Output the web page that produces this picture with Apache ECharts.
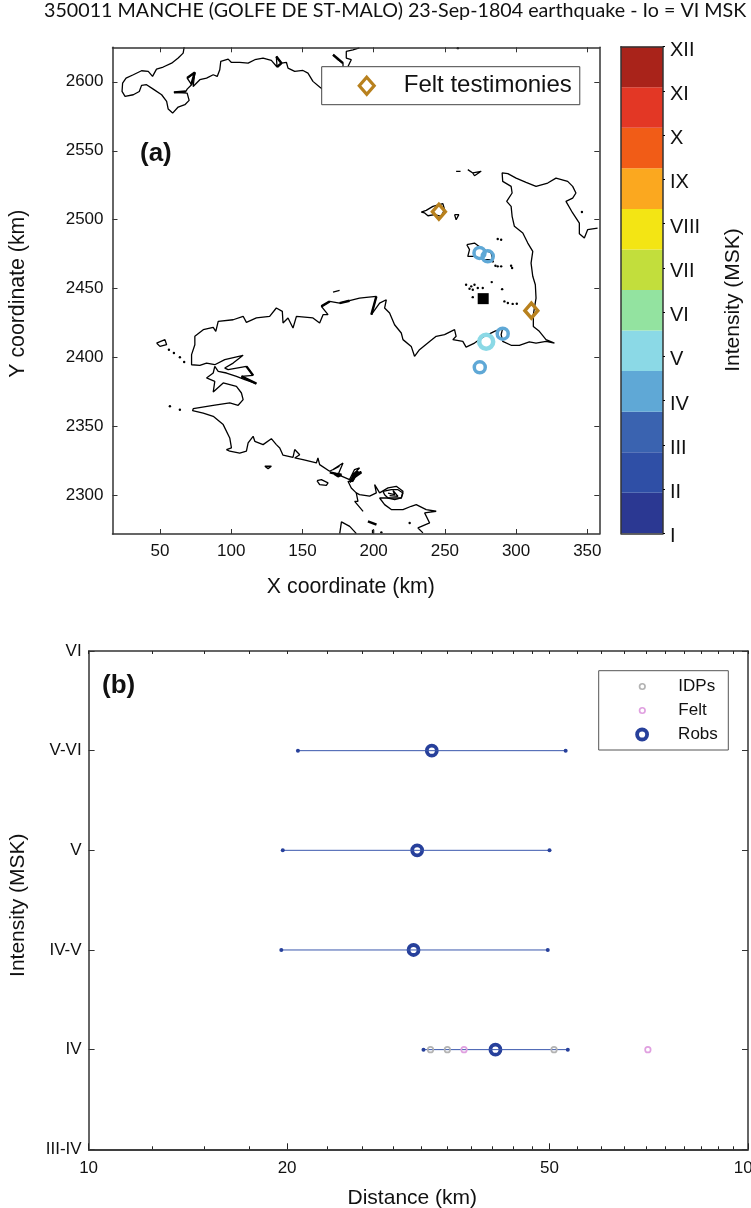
<!DOCTYPE html>
<html>
<head>
<meta charset="utf-8">
<title>350011 MANCHE</title>
<script src="https://cdn.jsdelivr.net/npm/echarts@6/dist/echarts.min.js"></script>
<style>
  html, body { margin: 0; padding: 0; background: #fff; }
  #main { width: 751px; height: 1208px; }
</style>
</head>
<body>
<div id="main"></div>
<script>
// map panel (a), coast lines, x/y in km
var coastEngland = [[67,2625.1],[66.3,2620.8],[62.8,2617.2],[58.2,2613.5],[52.3,2610.7],[47.6,2609.2],[44.8,2603.9],[41.8,2607.5],[37.1,2608],[31.3,2605.1],[26.2,2602.7],[23.8,2599.1],[23.4,2593],[25.5,2589.4],[31.3,2590.6],[35.5,2593],[37.1,2597.4],[40.6,2597.9],[45.3,2594.7],[51.2,2590.6],[54.7,2585.8],[55.8,2580.2],[58.9,2577.3],[62.8,2581.7],[67.5,2583.4],[70.5,2586.5],[69.1,2591.8],[59.8,2592.3],[68.2,2593],[69.1,2594.7],[72.2,2597.9],[69.1,2602.7],[74.5,2606.8],[73.3,2596.6],[78,2601.5],[82.7,2602.7],[87.4,2605.1],[90.2,2603.9],[92,2608.7],[92.7,2614.8],[97.9,2616.4],[100.2,2614],[106,2614],[111.9,2613.5],[116.6,2616],[122.4,2617.2],[128.2,2615.5],[132.2,2610.7],[131.7,2618.4],[135.3,2613.5],[138.8,2614],[139.9,2609.9],[144.6,2607.5],[150.4,2608.2],[153.9,2606.3],[157.4,2600.3],[162.1,2596.2],[170,2590]];
var coastEngland2 = [[171.5,2619.6],[175,2616],[178.5,2613.5],[178.5,2611.1]];
var coastEngland3 = [[182,2611.1],[184.3,2616],[180.8,2617.2],[180.8,2622],[185.5,2623.2],[190,2624.5]];
var coastFrance = [[234.6,2273],[231.1,2276.6],[239.3,2280.2],[235.8,2287.5],[243.9,2288.7],[236.9,2289.9],[229.9,2293.5],[226.4,2292.3],[220.6,2289.9],[212.4,2289.9],[207.7,2293.5],[204.2,2298.3],[219.4,2298.3],[220.6,2303.2],[215.9,2306.8],[210.1,2305.6],[204.2,2302],[200.7,2308],[201.9,2302],[197.2,2299.6],[190.1,2300.8],[187.8,2302],[184.3,2305.6],[182,2310.4],[185.5,2310.4],[189,2317.7],[184.3,2314],[190.1,2320.1],[186.6,2318.9],[183.1,2311.6],[175,2315.2],[178.5,2323.7],[171.5,2318.9],[176.1,2321.3],[169.1,2317.7],[162.1,2322.5],[160.9,2327.3],[159.8,2323.7],[150.4,2326.1],[144.6,2327.3],[148.1,2329.7],[144.6,2333.4],[143.4,2327.8],[136.4,2329.3],[134.1,2334.6],[131.7,2337],[128.2,2341.3],[122.4,2337],[116.6,2339.4],[115.4,2343],[111.9,2338.2],[110.7,2332.2],[106,2330.9],[99,2332.2],[96.7,2333.4],[100.2,2334.6],[99,2341.8],[94.4,2351.5],[87.4,2357.5],[80.4,2359.9],[72.9,2361.6],[73.4,2363.1],[87.4,2365.5],[99,2367.2],[104.9,2365.5],[108.4,2369.6],[107.2,2374.4],[103.7,2379.2],[94.4,2381.7],[87.4,2375.1],[88.5,2382.9],[82.7,2385.3],[87.4,2388.9],[88.5,2393.7],[90.9,2390.1],[96.7,2388.9],[103.7,2386.5],[109.6,2384.1],[117.7,2381.2],[107.2,2386.5],[115.4,2387.2],[110.7,2393.7],[97.9,2391.3],[95.5,2392.5],[101.4,2396.1],[108.4,2401.7],[95.5,2398.6],[88.5,2394.9],[82.7,2396.1],[78,2394.5],[72.2,2394.9],[72.2,2402.2],[74.5,2409.4],[74.5,2415.5],[80.4,2420.3],[87.4,2422],[89.2,2419.1],[90.9,2426.3],[101.4,2427.5],[108.4,2430],[110.7,2425.6],[117.7,2428.8],[127,2430],[131.7,2436],[135.9,2433.6],[136.4,2425.1],[139.9,2428.8],[143.4,2421.5],[145.8,2430],[157.4,2428.8],[162.1,2425.1],[164.5,2431.2],[168,2431.2],[163.3,2437.2],[169.1,2440.8],[176.1,2439.6],[183.1,2441.3],[190.1,2443.2],[194.9,2443.7],[201.9,2444.4],[198.4,2431.2],[204.2,2439.6],[208.9,2442],[207.7,2436],[211.2,2432.4],[214.7,2423.9],[219.4,2417.9],[220.6,2413.1],[226.4,2408.2],[228.7,2401],[232.2,2405.8],[239.3,2411.8],[243.9,2415.5],[249.8,2416.7],[256.8,2420.3],[257.9,2415.5],[255.6,2413.1],[262.6,2411.8],[264.9,2407.7],[270.8,2410.6],[277.8,2415.5],[284.8,2419.1],[290.6,2421.5],[289.5,2416.7],[290.6,2411.8],[296.5,2409],[302.3,2409],[309.3,2411.4],[314,2410.6],[321,2411.8],[326.9,2410.6],[321,2413.1],[316.3,2419.1],[312.1,2422.7],[312.1,2431.2],[314,2443.2],[313.5,2452.9],[311.7,2459],[310.5,2468.6],[311.7,2477.1],[308.2,2483.1],[304.7,2490.4],[298.8,2495.2],[297.2,2502.5],[296.5,2509.7],[293.4,2513.3],[297.2,2519.4],[296.5,2524.2],[290.6,2527.8],[290.2,2533.9],[294.2,2533.4],[300,2530.2],[307,2527.1],[314,2524.2],[322.2,2526.6],[328,2530.2],[336.2,2527.8],[339.7,2524.2],[342,2519.4],[339.7,2515.7],[335,2513.3],[339.7,2504.9],[344.4,2497.6],[344.4,2489.9],[347.9,2486.8],[350.2,2492.8],[357.2,2494]];
var coastVilaine = [[187.8,2302],[189,2295.9],[186.7,2295.9],[192.6,2288.6]];
var coastLoire = [[176.2,2272.5],[177.4,2281],[183.2,2277.7],[187.9,2272.5]];
var gulfLoop = [[206.6,2303.1],[212.4,2304.3],[217.1,2304.3],[220.6,2301.9],[219.4,2298.3],[214.8,2297.1],[210.1,2298.3],[207.7,2300.7],[206.6,2303.1]];
var gulfInner = [[210.1,2301.9],[214.8,2300.7],[213.6,2303.8],[217.1,2299.5],[211.2,2300]];
var guernsey = [[233.4,2505.6],[236.9,2506.8],[241.6,2509.7],[248.6,2511.6],[249.8,2507.3],[247.4,2502.5],[242.8,2503.7],[238.1,2502.9],[235.8,2504.9],[233.4,2505.6]];
var sark = [[256.8,2503.7],[259.8,2503.7],[257.9,2500],[256.8,2503.7]];
var alderney = [[266.1,2536.3],[269.6,2533.9],[275.5,2535.1],[270.8,2531.9],[269.6,2533.9]];
var jersey = [[265.4,2481.9],[270.8,2483.1],[275.5,2479.5],[282.5,2475.9],[283.6,2471.1],[277.8,2471.1],[270.8,2473.5],[266.1,2473.5],[267.3,2478.3],[265.4,2481.9]];
var belleIle = [[160.2,2310.9],[163.3,2311.6],[168,2309.2],[166.8,2307.5],[162.1,2308],[160.2,2310.9]];
var groix = [[123.6,2321.3],[128.2,2321.3],[125.9,2319.6],[123.6,2321.3]];
var ouessant = [[47.6,2410.6],[53.5,2413.1],[54.7,2409.4],[50,2408.2],[47.6,2410.6]];
var breHat = [[171.5,2447.6],[176.1,2448.8]];
var burhou = [[257.9,2535.1],[261,2535.1]];
var coastPieces = [coastEngland, coastEngland2, coastEngland3, coastFrance, coastVilaine, coastLoire, gulfLoop, gulfInner, guernsey, sark, alderney, jersey, belleIle, groix, ouessant, breHat, burhou];

// stretches of the coast that print as heavy black in the picture
var heavyPieces = [
  [[69.1,2602.7],[74.5,2606.8],[72,2598]],
  [[59.8,2592.3],[68.2,2593]],
  [[131.7,2618.4],[135.3,2613.5],[132.2,2610.7]],
  [[171.5,2619.6],[178.5,2613.5]],
  [[107.2,2386.5],[117.7,2381.2]],
  [[110.7,2393.7],[115.4,2387.2]],
  [[163.3,2437.2],[169.1,2440.8]],
  [[176.1,2439.6],[183.1,2441.3]],
  [[201.9,2444.4],[198.4,2431.2]],
  [[169.2,2316.9],[173.4,2315.9],[177.4,2315.2],[175,2314],[171.5,2316.4]],
  [[183.2,2309.6],[185.6,2314],[187.4,2316.4],[191.4,2316.9],[186.7,2313.5],[184.4,2310.3]],
  [[196,2281.4],[202,2279]],
  [[199.6,2275.3],[199.6,2272.5]]
];
var coastDots = [[56.3,2405.8],[59.8,2403.4],[64,2400.3],[67,2396.9],[57,2364.8],[64,2362.3],[346.2,2505.6],[259.1,2624.4],[205.4,2273.4],[225.3,2280.2],
  [264.9,2452.9],[268.5,2451.7],[270.8,2452.9],[273.1,2450.5],[276.6,2450.5],[269.6,2449.3],[267.3,2450],[282.9,2454.8],[269.6,2443.9],
  [287.1,2486],[289.5,2485.5],[283.6,2469.8],[285.5,2466.6],[287.1,2466.2],[289.5,2466.2],[297.2,2465],[296.5,2466.6],
  [291.8,2440.8],[294.2,2439.6],[297.6,2439],[300.5,2439.1],[290.2,2449.7]];

var feltPoints = [[245.8,2505.8],[310.7,2434.1]];
var epicentre = [[276.9,2442.8]];
var obsIV = [[274.3,2475.9],[280.1,2473.5],[290.6,2417.4],[274.5,2393]];
var obsV = [[279,2411.6]];

var mapXTicks = [50,100,150,200,250,300,350];
var mapYTicks = [2300,2350,2400,2450,2500,2550,2600];

// colour scale
var intensityNames = ['I','II','III','IV','V','VI','VII','VIII','IX','X','XI','XII'];
var intensityColors = ['#2b3892','#2f4fa6','#3a63b0','#5fa8d6','#8bd9e6','#93e3a0','#c2de3c','#f3e514','#fba81f','#f15c17','#e33725','#a9231a'];

// distance panel (b)
var rowIntensity = [5.5, 5, 4.5, 4];
var robsMid = [33.15, 31.5, 31.1, 41.4];
var robsLow = [20.77, 19.7, 19.6, 32.2];
var robsHigh = [52.9, 50, 49.7, 53.3];
var idpDistance = [33, 35, 50.8];
var idpIntensity = [4, 4, 4];
var feltDistance = [37.1, 70.5];
var feltIntensity = [4, 4];
var distMajorTicks = [10,20,50,100];
var distMinorTicks = [12.5,15,17.5,23,26,29,32,35,38,41,44,47,55,60,65,70,75,80,85,90,95];
var distAllTicks = [10,12.5,15,17.5,20,23,26,29,32,35,38,41,44,47,50,55,60,65,70,75,80,85,90,95,100];
var rowLabels = {'3.5':'III-IV','4':'IV','4.5':'IV-V','5':'V','5.5':'V-VI','6':'VI'};

var FONT = '"Liberation Sans", Arial, sans-serif';
var AXIS = '#333';
var ROBS = '#27409b';
var FELT = '#b8811e';

function zip(a, b) {
  return a.map(function (v, i) { return [v, b[i]]; });
}

var chart = echarts.init(document.getElementById('main'), null, {renderer: 'canvas'});

function lineOf(w) {
  return {show: true, onZero: false, lineStyle: {color: AXIS, width: w || 1.5}};
}

function mapAxis(pos, ticks, extent, labels) {
  return {
    type: 'value', position: pos, min: extent[0], max: extent[1], z: 5,
    splitLine: {show: false},
    axisLine: lineOf(),
    axisTick: {show: true, inside: true, length: 5, customValues: ticks, lineStyle: {color: AXIS, width: 1}},
    axisLabel: labels ? {show: true, customValues: ticks, color: '#111', fontSize: 17, fontFamily: FONT, margin: 9,
      formatter: function (v) { return String(v); }} : {show: false}
  };
}

var xAxes = [];
var yAxes = [];

// map axes
xAxes.push(Object.assign(mapAxis('bottom', mapXTicks, [16.7, 358.4], true), {
  gridIndex: 0, name: 'X coordinate (km)', nameLocation: 'middle', nameGap: 43,
  nameTextStyle: {fontSize: 21.3, fontFamily: FONT, color: '#111', padding: [0, 10, 0, 0]}
}));
xAxes.push(Object.assign(mapAxis('top', mapXTicks, [16.7, 358.4], false), {gridIndex: 0}));
yAxes.push(Object.assign(mapAxis('left', mapYTicks, [2272.2, 2625], true), {
  gridIndex: 0, name: 'Y coordinate (km)', nameLocation: 'middle', nameGap: 84,
  nameTextStyle: {fontSize: 21.3, fontFamily: FONT, color: '#111', padding: [0, 6, 0, 0]}
}));
yAxes.push(Object.assign(mapAxis('right', mapYTicks, [2272.2, 2625], false), {gridIndex: 0}));

// colour bar axes
['bottom', 'top'].forEach(function (pos) {
  xAxes.push({type: 'category', gridIndex: 1, position: pos, data: [''], z: 5,
    axisLine: lineOf(), axisTick: {show: false}, axisLabel: {show: false}});
});
yAxes.push({type: 'value', gridIndex: 1, position: 'left', min: 0, max: 12, z: 5,
  splitLine: {show: false}, axisLine: lineOf(), axisTick: {show: false}, axisLabel: {show: false}});
yAxes.push({type: 'value', gridIndex: 1, position: 'right', min: 1, max: 12, interval: 1, z: 5,
  splitLine: {show: false}, axisLine: lineOf(),
  axisTick: {show: true, length: 2, lineStyle: {color: '#000', width: 1}},
  axisLabel: {show: true, margin: 7,
    rich: {r: {color: '#111', fontSize: 20, fontFamily: FONT, padding: [7, 0, 0, 0]}},
    formatter: function (v) { return '{r|' + intensityNames[v - 1] + '}'; }},
  name: 'Intensity (MSK)', nameLocation: 'middle', nameGap: 60, nameRotate: 90,
  nameTextStyle: {fontSize: 21, fontFamily: FONT, color: '#111', padding: [0, 20, 0, 0]}});

// distance axes
function distAxis(pos, ticks, len, labels) {
  return {
    type: 'log', logBase: 10, gridIndex: 2, position: pos, min: 10, max: 100, z: 5,
    splitLine: {show: false}, minorTick: {show: false}, axisLine: lineOf(),
    axisTick: {show: true, inside: true, length: len, customValues: ticks, lineStyle: {color: '#222', width: 1}},
    axisLabel: labels ? {show: true, customValues: distMajorTicks, color: '#111', fontSize: 17, fontFamily: FONT, margin: 11,
      hideOverlap: false} : {show: false}
  };
}
xAxes.push(Object.assign(distAxis('bottom', distMajorTicks, 6, true), {
  name: 'Distance (km)', nameLocation: 'middle', nameGap: 38,
  nameTextStyle: {fontSize: 21, fontFamily: FONT, color: '#111', padding: [0, 12, 0, 0]}
}));
xAxes.push(distAxis('bottom', distMinorTicks, 3, false));
xAxes.push(distAxis('top', distAllTicks, 3, false));

function rowAxis(pos, labels) {
  return {
    type: 'value', gridIndex: 2, position: pos, min: 3.5, max: 6, interval: 0.5, z: 5,
    splitLine: {show: false}, axisLine: lineOf(),
    axisTick: {show: true, inside: true, length: 6, lineStyle: {color: AXIS, width: 1}},
    axisLabel: labels ? {show: true, color: '#111', fontSize: 17, fontFamily: FONT, margin: 7,
      formatter: function (v) { return rowLabels[String(v)]; }} : {show: false}
  };
}
yAxes.push(Object.assign(rowAxis('left', true), {
  name: 'Intensity (MSK)', nameLocation: 'middle', nameGap: 60,
  nameTextStyle: {fontSize: 21, fontFamily: FONT, color: '#111', padding: [0, 10, 0, 0]}
}));
yAxes.push(rowAxis('right', false));

var series = [];

// coast
coastPieces.forEach(function (piece) {
  series.push({type: 'line', xAxisIndex: 0, yAxisIndex: 0, data: piece, symbol: 'none', silent: true,
    lineStyle: {color: '#000', width: 1.3}, z: 2});
});
heavyPieces.forEach(function (piece) {
  series.push({type: 'line', xAxisIndex: 0, yAxisIndex: 0, data: piece, symbol: 'none', silent: true,
    lineStyle: {color: '#000', width: 2.4}, z: 2});
});
series.push({type: 'scatter', xAxisIndex: 0, yAxisIndex: 0, data: coastDots, symbol: 'circle', symbolSize: 2.4,
  itemStyle: {color: '#000', opacity: 1}, silent: true, z: 2});

series.push({type: 'scatter', name: 'Obs IV', xAxisIndex: 0, yAxisIndex: 0, data: obsIV, symbol: 'circle', symbolSize: 11,
  itemStyle: {color: 'transparent', borderColor: intensityColors[3], borderWidth: 3.5, opacity: 1}, z: 3});
series.push({type: 'scatter', name: 'Obs V', xAxisIndex: 0, yAxisIndex: 0, data: obsV, symbol: 'circle', symbolSize: 14,
  itemStyle: {color: 'transparent', borderColor: intensityColors[4], borderWidth: 4.5, opacity: 1}, z: 3});
series.push({type: 'scatter', name: 'Epicentre', xAxisIndex: 0, yAxisIndex: 0, data: epicentre, symbol: 'rect', symbolSize: 11,
  itemStyle: {color: '#000', opacity: 1}, z: 3});
series.push({type: 'scatter', name: 'Felt testimonies', xAxisIndex: 0, yAxisIndex: 0, data: feltPoints, symbol: 'diamond', symbolSize: [13, 15],
  itemStyle: {color: 'transparent', borderColor: FELT, borderWidth: 3.4, opacity: 1}, z: 3});

// colour bar bands
intensityNames.forEach(function (name, i) {
  series.push({type: 'bar', name: name, xAxisIndex: 2, yAxisIndex: 2, stack: 'bands', data: [1], barWidth: '100%',
    itemStyle: {color: intensityColors[i]}, silent: true});
});

// distance panel
series.push({type: 'scatter', name: 'Robs', xAxisIndex: 4, yAxisIndex: 4, data: zip(robsMid, rowIntensity), symbol: 'circle', symbolSize: 10,
  itemStyle: {color: '#fff', borderColor: ROBS, borderWidth: 3.8, opacity: 1}, z: 2});
rowIntensity.forEach(function (row, i) {
  series.push({type: 'line', xAxisIndex: 4, yAxisIndex: 4, data: [[robsLow[i], row], [robsHigh[i], row]],
    symbol: 'circle', symbolSize: 4, showSymbol: true, silent: true,
    itemStyle: {color: ROBS}, lineStyle: {color: '#3a57ad', width: 1}, z: 3});
});
series.push({type: 'scatter', name: 'IDPs', xAxisIndex: 4, yAxisIndex: 4, data: zip(idpDistance, idpIntensity), symbol: 'circle', symbolSize: 5.5,
  itemStyle: {color: 'transparent', borderColor: '#b3b3b3', borderWidth: 1.7, opacity: 1}, z: 4});
series.push({type: 'scatter', name: 'Felt', xAxisIndex: 4, yAxisIndex: 4, data: zip(feltDistance, feltIntensity), symbol: 'circle', symbolSize: 5.5,
  itemStyle: {color: 'transparent', borderColor: '#e0a0e0', borderWidth: 1.7, opacity: 1}, z: 4});

function rowLegend(name, top, size, padLeft, style) {
  return {
    data: [name], left: 598.7, top: top, align: 'left', selectedMode: false,
    padding: [0, 0, 0, padLeft], itemWidth: 62, itemHeight: size, icon: 'circle',
    itemStyle: style,
    textStyle: {fontSize: 17, fontFamily: FONT, color: '#111'}
  };
}

var option = {
  animation: false,
  backgroundColor: '#fff',
  title: [
    {text: '350011 MANCHE (GOLFE DE ST-MALO) 23-Sep-1804 earthquake - Io = VI MSK', left: 44, top: 1,
      padding: 0, textStyle: {fontSize: 19.7, fontWeight: 'normal', fontFamily: 'Lato', color: '#111'}},
    {text: '(a)', left: 140, top: 141, padding: 0, textStyle: {fontSize: 26, fontWeight: 'bold', fontFamily: FONT, color: '#111'}},
    {text: '(b)', left: 102, top: 673, padding: 0, textStyle: {fontSize: 26, fontWeight: 'bold', fontFamily: FONT, color: '#111'}}
  ],
  grid: [
    {left: 112.5, top: 47.3, width: 486.8, height: 486.7, outerBoundsMode: 'none'},
    {left: 621, top: 46.7, width: 42, height: 486.6, outerBoundsMode: 'none'},
    {left: 88.6, top: 651, width: 659.4, height: 498.3, outerBoundsMode: 'none'}
  ],
  xAxis: xAxes,
  yAxis: yAxes,
  series: series,
  legend: [
    {data: ['Felt testimonies'], left: 321.7, top: 66.7, selectedMode: false,
      padding: [7, 8, 7, 36], itemWidth: 64, itemHeight: 17,
      icon: 'path://M0,-8 L7,0 L0,8 L-7,0 Z',
      backgroundColor: '#fff', borderColor: '#444', borderWidth: 1, borderRadius: 0,
      itemStyle: {color: 'transparent', borderColor: FELT, borderWidth: 3.2},
      textStyle: {fontSize: 24, fontFamily: FONT, color: '#111'}},
    rowLegend('IDPs', 678, 5.5, 40, {color: 'transparent', borderColor: '#b3b3b3', borderWidth: 1.7}),
    rowLegend('Felt', 702, 5.5, 40, {color: 'transparent', borderColor: '#e0a0e0', borderWidth: 1.7}),
    rowLegend('Robs', 726, 10, 36.5, {color: '#fff', borderColor: ROBS, borderWidth: 3.8})
  ],
  graphic: [
    {type: 'rect', z: 3, shape: {x: 598.7, y: 670.7, width: 129.6, height: 79.3},
      style: {fill: '#fff', stroke: '#555', lineWidth: 1}}
  ]
};

chart.setOption(option);
</script>
</body>
</html>
